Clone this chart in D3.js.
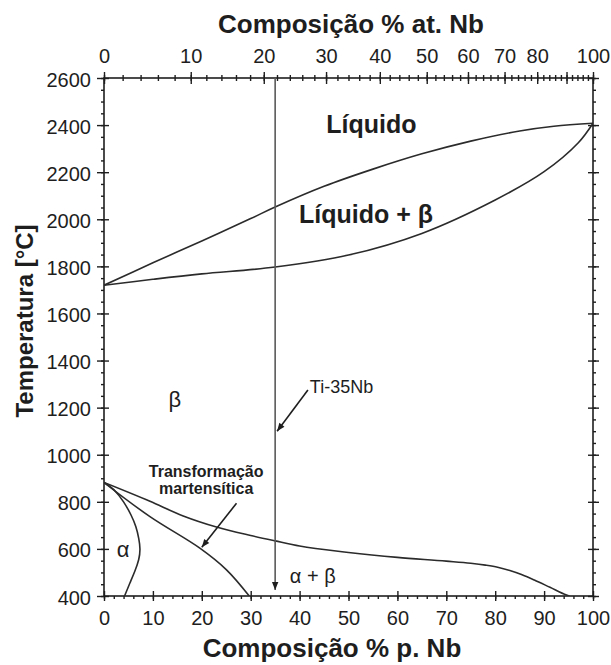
<!DOCTYPE html>
<html>
<head>
<meta charset="utf-8">
<script src="https://cdn.jsdelivr.net/npm/d3@7"></script>
<style>
  html, body { margin: 0; padding: 0; background: #fff; }
  svg { display: block; font-family: "Liberation Sans", Arial, Helvetica, sans-serif; }
</style>
</head>
<body>
<svg id="chart" width="611" height="665"></svg>
<script>
// Ti–Nb phase diagram (temperature vs. composition)

// --- axis ticks ---
const wtTicks = [0, 10, 20, 30, 40, 50, 60, 70, 80, 90, 100];
const atTicks = [0, 10, 20, 30, 40, 50, 60, 70, 80, 90, 100];
const atTickLabels = ["0", "10", "20", "30", "40", "50", "60", "70", "80", "", "100"];
const tempTicks = [400, 600, 800, 1000, 1200, 1400, 1600, 1800, 2000, 2200, 2400, 2600];

// --- phase boundaries (wt.% Nb, °C) ---
const liquidusWt = [0, 10, 20, 30, 35, 45, 55, 65, 75, 85, 92, 100];
const liquidusT  = [1720, 1815, 1908, 2003, 2052, 2140, 2213, 2278, 2332, 2375, 2395, 2408];

const solidusWt = [0, 10, 20, 35, 50, 65, 80, 90, 97, 100];
const solidusT  = [1720, 1745, 1768, 1797, 1848, 1940, 2082, 2202, 2325, 2408];

const transusWt = [0, 9.4, 16.2, 23, 30, 35, 40, 50, 60, 70, 75, 78, 80.5, 83, 85.5, 88, 91.2, 94.6, 95.2];
const transusT  = [882, 802, 740, 693, 657, 634, 612, 585, 564, 548, 539, 531, 522, 508, 490, 468, 437, 404, 400];

const martensiteWt = [0, 9.4, 19.6, 25, 29.7];
const martensiteT  = [882, 737, 603, 512, 400];

const alphaWt = [0, 2, 4, 5.5, 6.5, 7.1, 7.35, 7.1, 6.3, 5.3, 4.5, 4.2];
const alphaT  = [882, 852, 800, 745, 695, 645, 600, 555, 505, 455, 415, 400];

// Ti-35Nb alloy composition line
const alloyWt = 35;

// --- layout ---
const W = 611, H = 665;
const margin = { top: 78, right: 18, bottom: 69, left: 104 };
const innerW = W - margin.left - margin.right;
const innerH = H - margin.top - margin.bottom;

const svg = d3.select("#chart");
const g = svg.append("g").attr("transform", `translate(${margin.left},${margin.top})`);

const x = d3.scaleLinear().domain([0, 100]).range([0, innerW]);
const y = d3.scaleLinear().domain([400, 2600]).range([innerH, 0]);

// atomic % → weight % Nb (molar masses of Ti and Nb)
const M_TI = 47.867, M_NB = 92.906;
const atToWt = a => 100 * a * M_NB / (a * M_NB + (100 - a) * M_TI);
const atDomain = d3.range(0, 101, 1);
const xAt = d3.scaleLinear().domain(atDomain).range(atDomain.map(a => x(atToWt(a))));

const ink = "#1e1e1e";

// --- clip ---
svg.append("defs").append("clipPath").attr("id", "plotClip")
  .append("rect").attr("width", innerW).attr("height", innerH);

// --- axes ---
function styleAxis(sel) {
  sel.select(".domain").remove();
  sel.selectAll("line").attr("stroke", ink).attr("stroke-width", 1.4);
  sel.selectAll("text").attr("fill", ink).attr("font-size", 20);
}

// minor ticks
g.append("g").attr("transform", `translate(0,${innerH})`)
  .call(d3.axisBottom(x).tickValues(d3.range(0, 101, 2)).tickSize(3).tickFormat(""))
  .call(styleAxis);
g.append("g")
  .call(d3.axisTop(xAt).tickValues(d3.range(0, 101, 2)).tickSize(3).tickFormat(""))
  .call(styleAxis)
  .selectAll("line").attr("y1", 3).attr("y2", -3);
g.append("g")
  .call(d3.axisLeft(y).tickValues(d3.range(400, 2601, 50)).tickSize(3).tickFormat(""))
  .call(styleAxis);
g.append("g").attr("transform", `translate(${innerW},0)`)
  .call(d3.axisRight(y).tickValues(d3.range(400, 2601, 50)).tickSize(3).tickFormat(""))
  .call(styleAxis);

// major ticks and labels
const bottomAxis = g.append("g").attr("transform", `translate(0,${innerH})`)
  .call(d3.axisBottom(x).tickValues(wtTicks).tickSize(5).tickPadding(10).tickFormat(d3.format("d")))
  .call(styleAxis);
bottomAxis.selectAll("line").attr("y1", -5).attr("y2", 5);

const topAxis = g.append("g")
  .call(d3.axisTop(xAt).tickValues(atTicks).tickSize(6).tickPadding(9)
    .tickFormat((d, i) => atTickLabels[i]))
  .call(styleAxis);
topAxis.selectAll("line").attr("y1", 6).attr("y2", -6);

const leftAxis = g.append("g")
  .call(d3.axisLeft(y).tickValues(tempTicks).tickSize(7).tickPadding(6).tickFormat(d3.format("d")))
  .call(styleAxis);
leftAxis.selectAll("line").attr("x1", 5).attr("x2", -7);
leftAxis.selectAll("text").attr("dy", "0.4em");

const rightAxis = g.append("g").attr("transform", `translate(${innerW},0)`)
  .call(d3.axisRight(y).tickValues(tempTicks).tickSize(6).tickFormat(""))
  .call(styleAxis);
rightAxis.selectAll("line").attr("x1", -5).attr("x2", 6);

// frame
g.append("rect").attr("width", innerW).attr("height", innerH)
  .attr("fill", "none").attr("stroke", ink).attr("stroke-width", 1.6);

// --- phase boundaries ---
const plot = g.append("g").attr("clip-path", "url(#plotClip)");
const lineWith = curve => d3.line().x(d => x(d[0])).y(d => y(d[1])).curve(curve);
const boundaries = [
  [liquidusWt, liquidusT, d3.curveCatmullRom.alpha(0.5)],
  [solidusWt, solidusT, d3.curveCatmullRom.alpha(0.5)],
  [transusWt, transusT, d3.curveMonotoneX],
  [martensiteWt, martensiteT, d3.curveCatmullRom.alpha(0.5)],
  [alphaWt, alphaT, d3.curveNatural]
];
boundaries.forEach(([xs, ts, curve]) => {
  plot.append("path")
    .datum(xs.map((v, i) => [v, ts[i]]))
    .attr("d", lineWith(curve))
    .attr("fill", "none")
    .attr("stroke", "#2b2b2b")
    .attr("stroke-width", 1.6);
});

// --- arrows ---
const defs = svg.select("defs");
defs.append("marker").attr("id", "head").attr("viewBox", "0 0 10 10")
  .attr("refX", 10).attr("refY", 5).attr("markerWidth", 10).attr("markerHeight", 8)
  .attr("markerUnits", "userSpaceOnUse").attr("orient", "auto")
  .append("path").attr("d", "M0,1 L10,5 L0,9 Z").attr("fill", ink);

// vertical Ti-35Nb composition line
g.append("line")
  .attr("x1", x(alloyWt)).attr("x2", x(alloyWt))
  .attr("y1", y(2600)).attr("y2", y(425))
  .attr("stroke", "#5a5a5a").attr("stroke-width", 1.6)
  .attr("marker-end", "url(#head)");

// pointer to the alloy line
g.append("line")
  .attr("x1", x(41.7)).attr("y1", y(1275))
  .attr("x2", x(35.4)).attr("y2", y(1100))
  .attr("stroke", ink).attr("stroke-width", 1.6)
  .attr("marker-end", "url(#head)");

// pointer to the martensitic transformation line
g.append("line")
  .attr("x1", x(27.1)).attr("y1", y(794))
  .attr("x2", x(20.0)).attr("y2", y(607))
  .attr("stroke", ink).attr("stroke-width", 1.6)
  .attr("marker-end", "url(#head)");

// --- region labels ---
function label(text, wt, t, opts = {}) {
  g.append("text")
    .attr("x", x(wt)).attr("y", y(t))
    .attr("text-anchor", opts.anchor || "middle")
    .attr("font-size", opts.size || 20)
    .attr("font-weight", opts.weight || "normal")
    .attr("fill", ink)
    .text(text);
}
label("Líquido", 54.7, 2366, { size: 25, weight: "bold" });
label("Líquido + β", 53.6, 1984, { size: 25, weight: "bold" });
label("β", 14.5, 1203, { size: 22 });
label("Ti-35Nb", 42.1, 1262, { size: 18, anchor: "start" });
label("Transformação", 20.9, 905, { size: 16, weight: "bold" });
label("martensítica", 20.9, 834, { size: 16, weight: "bold" });
label("α", 3.9, 566, { size: 22 });
label("α + β", 38, 455, { size: 20, anchor: "start" });

// --- axis titles ---
svg.append("text")
  .attr("x", 351).attr("y", 33)
  .attr("text-anchor", "middle").attr("font-size", 26).attr("font-weight", "bold")
  .attr("fill", ink).text("Composição % at. Nb");
svg.append("text")
  .attr("x", 332).attr("y", 657)
  .attr("text-anchor", "middle").attr("font-size", 26).attr("font-weight", "bold")
  .attr("fill", ink).text("Composição % p. Nb");
svg.append("text")
  .attr("transform", `translate(33,${321}) rotate(-90)`)
  .attr("text-anchor", "middle").attr("font-size", 24).attr("font-weight", "bold")
  .attr("fill", ink).text("Temperatura [°C]");
</script>
</body>
</html>
